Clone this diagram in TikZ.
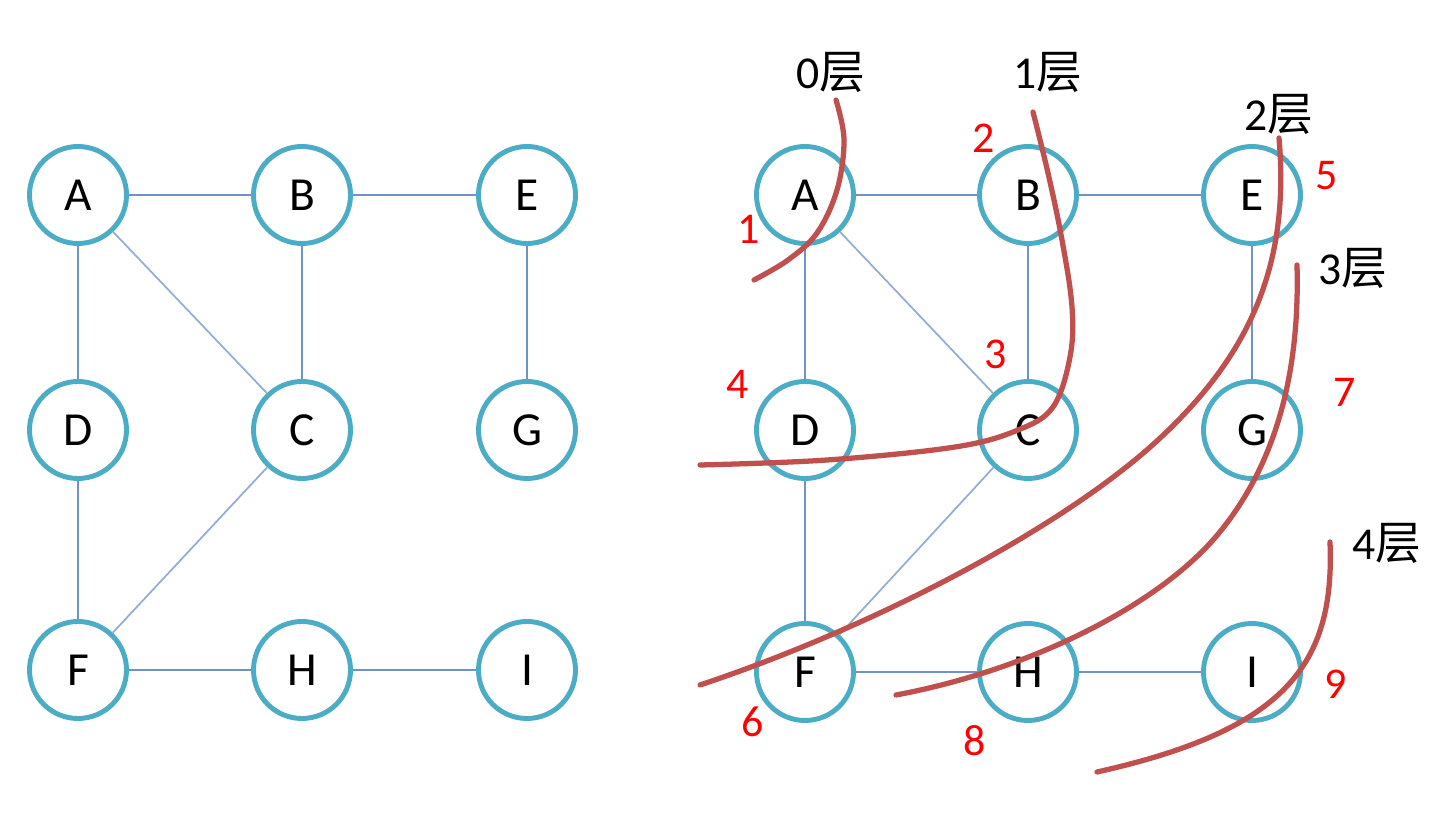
\documentclass[tikz,border=0pt]{standalone}
\usepackage{fontspec}
\setmainfont{Carlito}
\newfontfamily\cjk{Noto Sans CJK SC}
\usepackage{xcolor}
\definecolor{vxteal}{RGB}{75,172,198}
\definecolor{edgeblue}{RGB}{112,146,200}
\definecolor{cutred}{RGB}{192,80,77}
\definecolor{numred}{RGB}{255,0,0}

\begin{document}
\begin{tikzpicture}[
    vertex/.style={circle, draw=vxteal, line width=1.4pt, fill=white, minimum size=0.97cm, inner sep=0pt, font=\fontsize{13.5}{16}\selectfont},
    link/.style={edgeblue, line width=0.8pt},
    thinlink/.style={edgeblue!75, line width=0.5pt},
    cut/.style={cutred, line width=1.5pt, line cap=round},
    order/.style={text=numred, font=\fontsize{12.5}{15}\selectfont},
    layer/.style={font=\fontsize{13}{16}\selectfont}
  ]
  \useasboundingbox (0,0) rectangle (14.48,8.25);

  % Left graph: vertices
  \node[vertex] (lA) at (0.78,6.30) {A};
  \node[vertex] (lB) at (3.02,6.30) {B};
  \node[vertex] (lE) at (5.27,6.30) {E};
  \node[vertex] (lD) at (0.78,3.95) {D};
  \node[vertex] (lC) at (3.02,3.95) {C};
  \node[vertex] (lG) at (5.27,3.95) {G};
  \node[vertex] (lF) at (0.78,1.55) {F};
  \node[vertex] (lH) at (3.02,1.55) {H};
  \node[vertex] (lI) at (5.27,1.55) {I};
  % Left graph: edges
  \draw[link] (lA) -- (lB);
  \draw[link] (lB) -- (lE);
  \draw[link] (lA) -- (lD);
  \draw[thinlink] (lA) -- (lC);
  \draw[link] (lB) -- (lC);
  \draw[link] (lE) -- (lG);
  \draw[link] (lD) -- (lF);
  \draw[thinlink] (lC) -- (lF);
  \draw[link] (lF) -- (lH);
  \draw[link] (lH) -- (lI);

  % Right graph: vertices
  \node[vertex] (rA) at (8.05,6.30) {A};
  \node[vertex] (rB) at (10.28,6.30) {B};
  \node[vertex] (rE) at (12.52,6.30) {E};
  \node[vertex] (rD) at (8.05,3.95) {D};
  \node[vertex] (rC) at (10.28,3.95) {C};
  \node[vertex] (rG) at (12.52,3.95) {G};
  \node[vertex] (rF) at (8.05,1.53) {F};
  \node[vertex] (rH) at (10.28,1.53) {H};
  \node[vertex] (rI) at (12.52,1.53) {I};
  % Right graph: edges
  \draw[link] (rA) -- (rB);
  \draw[link] (rB) -- (rE);
  \draw[link] (rA) -- (rD);
  \draw[thinlink] (rA) -- (rC);
  \draw[link] (rB) -- (rC);
  \draw[link] (rE) -- (rG);
  \draw[link] (rD) -- (rF);
  \draw[thinlink] (rC) -- (rF);
  \draw[link] (rF) -- (rH);
  \draw[link] (rH) -- (rI);

  % Layer cuts
  \draw[cut] plot[smooth, tension=0.6] coordinates {(8.36,7.25) (8.44,6.85) (8.37,6.35) (8.17,5.92) (7.88,5.65) (7.54,5.45)};
  \draw[cut] plot[smooth, tension=0.6] coordinates {(10.33,7.13) (10.48,6.52) (10.62,5.85) (10.72,5.18) (10.70,4.68) (10.53,4.18) (10.18,3.95) (9.55,3.78) (8.27,3.65) (7.00,3.60)};
  \draw[cut] (12.79,6.87) .. controls (12.90,5.60) and (12.50,4.70) .. (11.58,3.85)
             .. controls (10.66,3.00) and (8.80,2.00) .. (7.00,1.40);
  \draw[cut] (12.97,5.60) .. controls (13.00,4.50) and (12.75,3.60) .. (12.19,2.92)
             .. controls (11.60,2.20) and (10.30,1.55) .. (8.96,1.30);
  \draw[cut] (13.30,2.83) .. controls (13.35,1.60) and (12.85,0.95) .. (10.97,0.53);

  % Layer labels
  \node[layer] (lay0) at (8.31,7.53) {0{\cjk 层}};
  \node[layer] (lay1) at (10.48,7.53) {1{\cjk 层}};
  \node[layer] (lay2) at (12.79,7.11) {2{\cjk 层}};
  \node[layer] (lay3) at (13.53,5.57) {3{\cjk 层}};
  \node[layer] (lay4) at (13.87,2.82) {4{\cjk 层}};

  % Visit order
  \node[order] (o1) at (7.49,5.96) {1};
  \node[order] (o2) at (9.84,6.87) {2};
  \node[order] (o3) at (9.96,4.71) {3};
  \node[order] (o4) at (7.38,4.41) {4};
  \node[order] (o5) at (13.27,6.49) {5};
  \node[order] (o6) at (7.53,1.03) {6};
  \node[order] (o7) at (13.45,4.33) {7};
  \node[order] (o8) at (9.75,0.84) {8};
  \node[order] (o9) at (13.36,1.41) {9};
\end{tikzpicture}
\end{document}
